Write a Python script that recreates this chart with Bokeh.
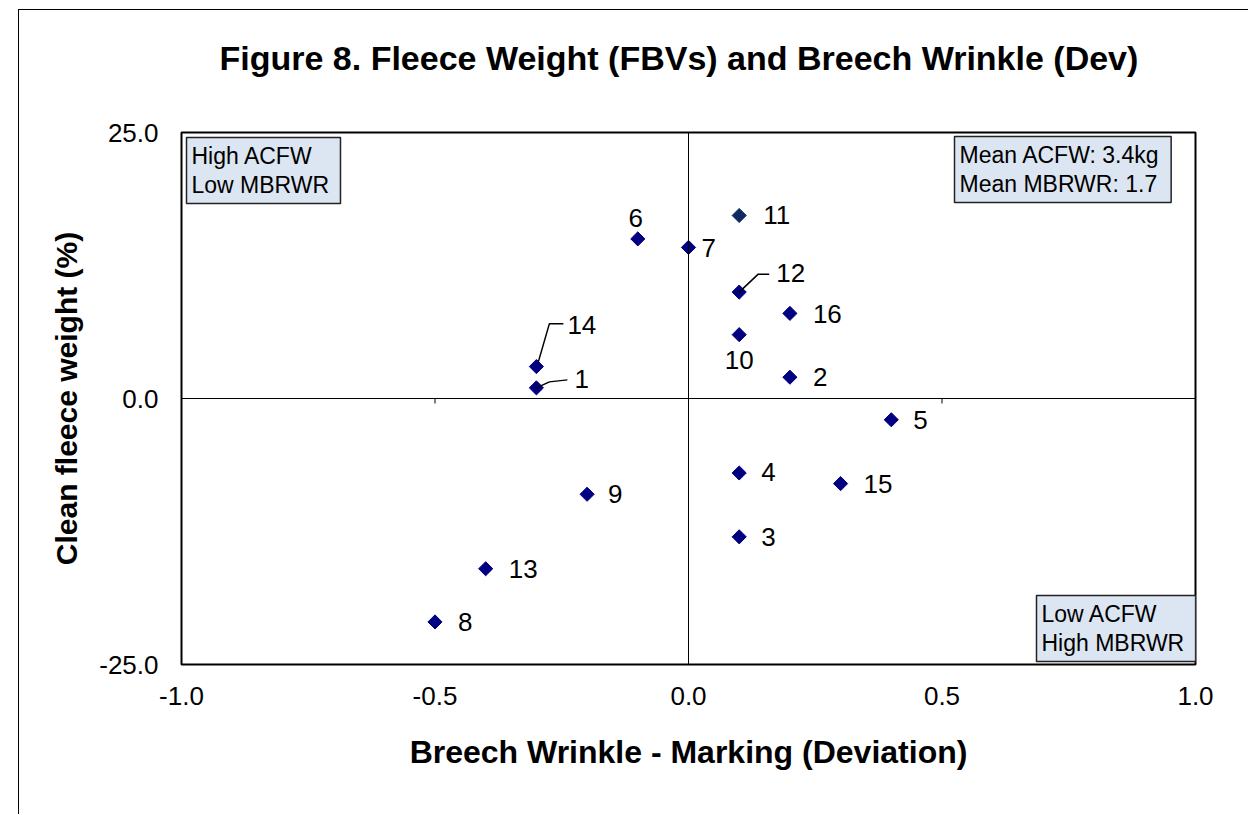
import numpy as np
from bokeh.plotting import figure
from bokeh.models import Range1d, FixedTicker, Span, Label, ColumnDataSource, Title
from bokeh.core.properties import value
from bokeh.embed import file_html
from bokeh.resources import INLINE

# ---- data ----
sire_ids = ["1", "2", "3", "4", "5", "6", "7", "8", "9", "10", "11", "12", "13", "14", "15", "16"]
wrinkle_dev = [-0.3, 0.2, 0.1, 0.1, 0.4, -0.1, 0.0, -0.5, -0.2, 0.1, 0.1, 0.1, -0.4, -0.3, 0.3, 0.2]
fleece_pct = [1.0, 2.0, -13.0, -7.0, -2.0, 15.0, 14.2, -21.0, -9.0, 6.0, 17.2, 10.0, -16.0, 3.0, -8.0, 8.0]
x_ticks = [-1.0, -0.5, 0.0, 0.5, 1.0]
x_tick_labels = ["-1.0", "-0.5", "0.0", "0.5", "1.0"]
y_ticks = [-25.0, 0.0, 25.0]
y_tick_labels = ["-25.0", "0.0", "25.0"]
title_text = "Figure 8.  Fleece Weight (FBVs) and Breech Wrinkle (Dev)"

FONT = "Liberation Sans"
MX, MY = 18, 9                      # figure placed at (18, 9) on the page
W, H = 1230, 805
FL, FT = 180 - MX, 130 - MY
FR = W - (1194 - MX)
FB = H - (663 - MY)
fw = W - FL - FR
fh = H - FT - FB
XMIN, XMAX, YMIN, YMAX = -1.0, 1.0, -25.0, 25.0
px_x = (XMAX - XMIN) / fw
px_y = (YMAX - YMIN) / fh

p = figure(width=W, height=H, output_backend="svg", toolbar_location=None,
           x_range=Range1d(XMIN, XMAX), y_range=Range1d(YMIN, YMAX),
           min_border_left=FL, min_border_right=FR, min_border_top=FT, min_border_bottom=FB,
           title=None)
p.margin = (MY, 0, 0, MX)
p.styles = {"border-left": "1px solid black", "border-top": "1px solid black"}

# spacer between frame and title, then the title itself
p.add_layout(Title(text=" ", text_font_size="2px", standoff=22), "above")
p.add_layout(Title(text=title_text, align="left", offset=38, vertical_align="top", standoff=56,
                   text_font=FONT, text_font_style="bold", text_font_size="34px",
                   text_color="black"), "above")

p.grid.visible = False
p.outline_line_color = "black"
p.outline_line_width = 2
p.background_fill_color = "white"
p.border_fill_color = "white"

for ax in (p.xaxis[0], p.yaxis[0]):
    ax.axis_line_color = None
    ax.major_tick_line_color = None
    ax.minor_tick_line_color = None
    ax.major_label_text_font = FONT
    ax.major_label_text_font_size = "26px"
    ax.major_label_text_color = "black"
    ax.axis_label_text_font = FONT
    ax.axis_label_text_font_style = "bold"
    ax.axis_label_text_color = "black"

p.xaxis.ticker = FixedTicker(ticks=x_ticks)
p.xaxis.major_label_overrides = {t: l for t, l in zip(x_ticks, x_tick_labels)}
p.xaxis.major_label_standoff = 16
p.xaxis.axis_label = "Breech Wrinkle - Marking (Deviation)"
p.xaxis.axis_label_text_font_size = "32px"
p.xaxis.axis_label_standoff = 26

p.yaxis.ticker = FixedTicker(ticks=y_ticks)
p.yaxis.major_label_overrides = {t: l for t, l in zip(y_ticks, y_tick_labels)}
p.yaxis.major_label_standoff = 17
p.yaxis.axis_label = "Clean fleece weight (%)"
p.yaxis.axis_label_text_font_size = "30px"
p.yaxis.axis_label_standoff = 13

# zero axes
p.add_layout(Span(location=0, dimension="width", line_color="black", line_width=1))
p.add_layout(Span(location=0, dimension="height", line_color="black", line_width=1))
# small tick marks on the zero axes
p.segment(x0=x_ticks, y0=[0] * len(x_ticks), x1=x_ticks, y1=[-5 * px_y] * len(x_ticks),
          line_color="black", line_width=1)
p.segment(x0=[0] * len(y_ticks), y0=y_ticks, x1=[-5 * px_x] * len(y_ticks), y1=y_ticks,
          line_color="black", line_width=1)

# points
colors = ["#000080"] * len(sire_ids)
colors[sire_ids.index("11")] = "#0e2a5e"
src = ColumnDataSource(dict(x=wrinkle_dev, y=fleece_pct, c=colors, t=sire_ids))
p.scatter("x", "y", source=src, marker="square", angle=np.pi / 4, size=10,
          fill_color="c", line_color="c")

# label placement (pixels): dx, dy (down positive), align
lab_dx = {"1": 38, "2": 23, "3": 22, "4": 22, "5": 22, "6": -2, "7": 13, "8": 23, "9": 21,
          "10": 0, "11": 24, "12": 37, "13": 23, "14": 31, "15": 23, "16": 23}
lab_dy = {"1": -9, "2": 0, "3": 0, "4": -1, "5": 0, "6": -21, "7": 1, "8": 0, "9": 0,
          "10": 25, "11": 0, "12": -19, "13": 0, "14": -42, "15": 0, "16": 1}
centered = {"6", "10"}
for grp, align in ((lambda s: s not in centered, "left"), (lambda s: s in centered, "center")):
    ids = [s for s in sire_ids if grp(s)]
    xs = [wrinkle_dev[sire_ids.index(s)] for s in ids]
    ys = [fleece_pct[sire_ids.index(s)] for s in ids]
    p.text(x=xs, y=ys, text=ids, x_offset=[lab_dx[s] for s in ids], y_offset=[lab_dy[s] for s in ids],
           text_font=value(FONT), text_font_size="26px", text_color="black",
           text_align=align, text_baseline="middle")

# leader lines (pixel offsets from point, y down positive)
leaders = {"14": [(2, -5), (13, -43), (27, -43)],
           "1": [(0, 0), (13, -6), (31, -8)],
           "12": [(0, 0), (19, -18), (30, -18)]}
lxs, lys = [], []
for s, pts in leaders.items():
    i = sire_ids.index(s)
    lxs.append([wrinkle_dev[i] + dx * px_x for dx, dy in pts])
    lys.append([fleece_pct[i] - dy * px_y for dx, dy in pts])
p.multi_line(xs=lxs, ys=lys, line_color="black", line_width=1.5)

# quadrant / info boxes
box_style = dict(text_font=FONT, text_font_size="23px", text_color="black", text_line_height=1.15,
                 background_fill_color="#dce6f2", border_line_color="#222222", border_line_width=1.5,
                 padding=5, text_align="left")
p.add_layout(Label(x=XMIN, y=YMAX, x_offset=5, y_offset=-5, text="High  ACFW\nLow  MBRWR",
                   text_baseline="top", **box_style))
p.add_layout(Label(x=XMAX, y=YMAX, x_offset=-241, y_offset=-4, text="Mean  ACFW: 3.4kg\nMean  MBRWR: 1.7",
                   text_baseline="top", **box_style))
p.add_layout(Label(x=XMAX, y=YMIN, x_offset=-159, y_offset=3, text="Low  ACFW\nHigh  MBRWR",
                   text_baseline="bottom", **box_style))

open("out.html", "w").write(file_html(p, INLINE))
